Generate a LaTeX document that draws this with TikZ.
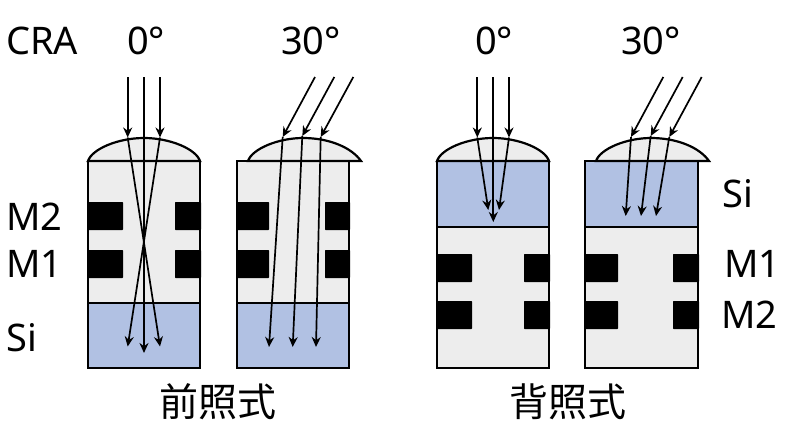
\documentclass[tikz,border=0pt]{standalone}
\usepackage{fontspec}
\setmainfont{Noto Sans}
\newfontfamily\cjk{Noto Sans CJK JP}
\usetikzlibrary{arrows.meta}
\definecolor{cellgray}{HTML}{EDEDED}
\definecolor{siblue}{HTML}{B1C1E3}
\tikzset{
  ray/.style={line width=1.7pt,draw=black,-{Stealth[length=10pt,width=9pt]}},
  wall/.style={line width=2.2pt,draw=black},
  grayfill/.style={wall,fill=cellgray},
  bluefill/.style={wall,fill=siblue},
  metal/.style={fill=black,draw=none,rounded corners=0.6pt},
  lbl/.style={font=\fontsize{38}{40}\selectfont,inner sep=0pt,anchor=base west},
  midlbl/.style={font=\fontsize{38}{40}\selectfont,inner sep=0pt,anchor=base},
  captxt/.style={font=\cjk\fontsize{39}{42}\selectfont,inner sep=0pt,anchor=center}
}
\begin{document}
\begin{tikzpicture}[x=1pt,y=-1pt]
\useasboundingbox (0,0) rectangle (793,437);
\fill[white] (0,0) rectangle (793,437);
% panel 1
\draw[grayfill] (88,161) rectangle (200,303);
\draw[bluefill] (88,303) rectangle (200,368);
\fill[metal] (87,202) rectangle (123,230);
\fill[metal] (87,250) rectangle (123,278);
\fill[metal] (175,202) rectangle (201,230);
\fill[metal] (175,250) rectangle (201,278);
\draw[grayfill] (88,161) .. controls (92,149) and (118,138) .. (144,138) .. controls (170,138) and (196,149) .. (200,161) -- cycle;
% panel 2
\draw[grayfill] (237,161) rectangle (349,303);
\draw[bluefill] (237,303) rectangle (349,368);
\fill[metal] (236,202) rectangle (269,230);
\fill[metal] (236,250) rectangle (269,278);
\fill[metal] (325,202) rectangle (350,230);
\fill[metal] (325,250) rectangle (350,278);
\draw[grayfill] (248,161) .. controls (252,149) and (278,138) .. (303,138) .. controls (330,138) and (352,148) .. (361,161) -- cycle;
% panel 3
\draw[bluefill] (437,161) rectangle (549,227);
\draw[grayfill] (437,227) rectangle (549,368);
\fill[metal] (436,254) rectangle (472,282);
\fill[metal] (436,301) rectangle (472,329);
\fill[metal] (524,254) rectangle (550,282);
\fill[metal] (524,301) rectangle (550,329);
\draw[grayfill] (437,161) .. controls (441,149) and (467,138) .. (493,138) .. controls (519,138) and (545,149) .. (549,161) -- cycle;
% panel 4
\draw[bluefill] (585,161) rectangle (698,227);
\draw[grayfill] (585,227) rectangle (698,368);
\fill[metal] (584,254) rectangle (618,282);
\fill[metal] (584,301) rectangle (618,329);
\fill[metal] (673,254) rectangle (699,282);
\fill[metal] (673,301) rectangle (699,329);
\draw[grayfill] (596,161) .. controls (600,149) and (626,138) .. (651,138) .. controls (678,138) and (700,148) .. (709,161) -- cycle;
% rays panel 1
\coordinate (a1) at (127.7,77); \coordinate (a1l) at (127.7,137.5); \coordinate (a1e) at (160,346.5);
\coordinate (a2) at (144,77); \coordinate (a2e) at (144,353);
\coordinate (a3) at (160,77); \coordinate (a3l) at (160,137.5); \coordinate (a3e) at (127.7,346.5);
\draw[ray] (a1) -- (a1l); \draw[ray] (a3) -- (a3l);
\draw[ray] (a1l) -- (a1e); \draw[ray] (a3l) -- (a3e); \draw[ray] (a2) -- (a2e);
% rays panel 2
\coordinate (b1) at (315,77); \coordinate (b1l) at (282.7,137); \coordinate (b1e) at (269,347);
\coordinate (b2) at (334.3,77); \coordinate (b2l) at (302.3,136); \coordinate (b2e) at (292.7,347);
\coordinate (b3) at (353.3,77); \coordinate (b3l) at (320.7,137); \coordinate (b3e) at (316,347);
\foreach \n in {b1,b2,b3}{\draw[ray] (\n) -- (\n l); \draw[ray] (\n l) -- (\n e);}
% rays panel 3
\coordinate (c1) at (477.3,77); \coordinate (c1l) at (477.3,137.5); \coordinate (c1e) at (488.3,210);
\coordinate (c2) at (493.3,77); \coordinate (c2e) at (493.3,222);
\coordinate (c3) at (509,77); \coordinate (c3l) at (509,137.5); \coordinate (c3e) at (499,210);
\draw[ray] (c1) -- (c1l); \draw[ray] (c3) -- (c3l);
\draw[ray] (c1l) -- (c1e); \draw[ray] (c3l) -- (c3e); \draw[ray] (c2) -- (c2e);
% rays panel 4
\coordinate (d1) at (663.3,77); \coordinate (d1l) at (631,137); \coordinate (d1e) at (625.7,216);
\coordinate (d2) at (682.7,77); \coordinate (d2l) at (650.7,136); \coordinate (d2e) at (641,216);
\coordinate (d3) at (701.7,77); \coordinate (d3l) at (669.3,137); \coordinate (d3e) at (656,216);
\foreach \n in {d1,d2,d3}{\draw[ray] (\n) -- (\n l); \draw[ray] (\n l) -- (\n e);}
% labels
\node[lbl] (cra) at (6,54) {CRA};
\node[midlbl] (t1) at (146,54) {0°};
\node[midlbl] (t2) at (311,54) {30°};
\node[midlbl] (t3) at (494,54) {0°};
\node[midlbl] (t4) at (651,54) {30°};
\node[lbl] (m2l) at (6,230) {M2};
\node[lbl] (m1l) at (6,277) {M1};
\node[lbl] (sil) at (6,351.5) {Si};
\node[lbl] (sir) at (722,207) {Si};
\node[lbl] (m1r) at (724,277) {M1};
\node[lbl] (m2r) at (721,328) {M2};
\node[captxt] (c1t) at (218,402) {前照式};
\node[captxt] (c2t) at (567.5,402) {背照式};
\end{tikzpicture}
\end{document}
